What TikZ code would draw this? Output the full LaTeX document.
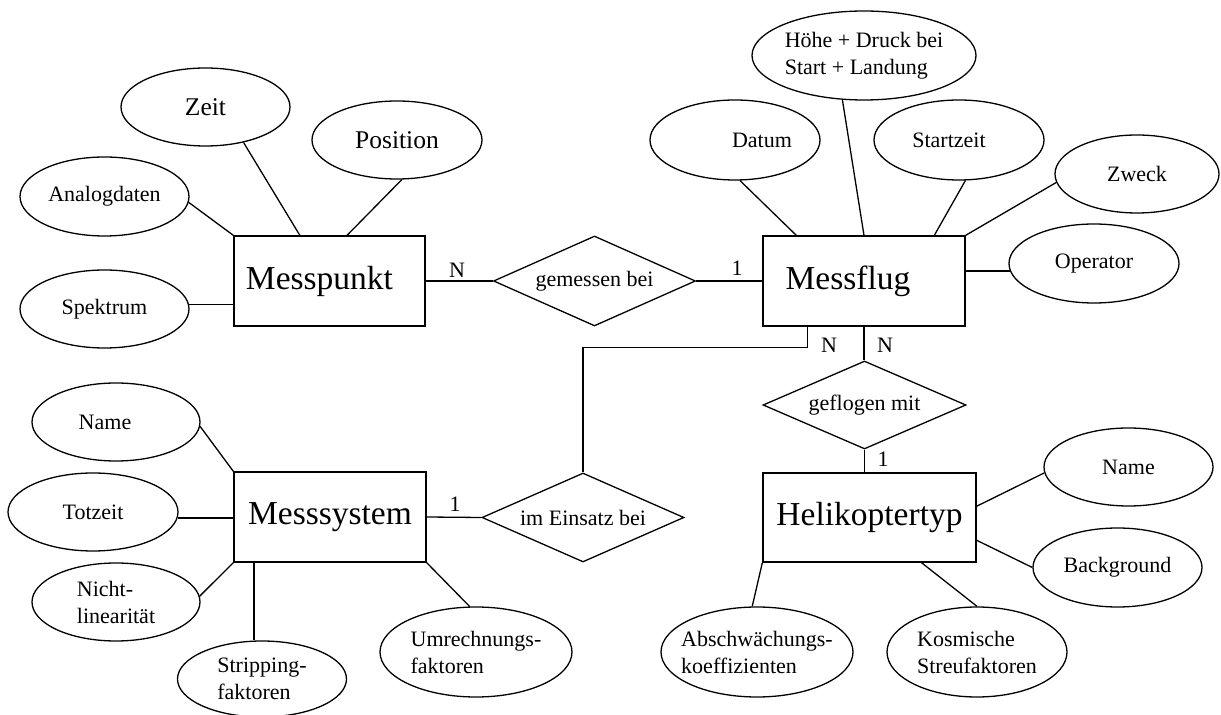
\documentclass[tikz,border=0pt]{standalone}
\usepackage{fontspec}
\setmainfont{Liberation Serif}
\usetikzlibrary{shapes.geometric}

\tikzset{
  entity/.style={draw, rectangle, inner sep=0pt, minimum height=45pt,
    font=\fontsize{16.75}{20}\selectfont},
  attr/.style={draw, ellipse, inner sep=0pt, minimum width=85pt, minimum height=39pt,
    align=left, font=\fontsize{11}{13.5}\selectfont},
  rel/.style={draw, diamond, aspect=2.24, inner sep=0pt, minimum width=101pt,
    minimum height=45pt, font=\fontsize{11}{13.5}\selectfont},
  card/.style={inner sep=0pt, font=\fontsize{11}{13.5}\selectfont},
}

\begin{document}
\begin{tikzpicture}[x=0.5pt, y=-0.5pt, line width=0.65pt]
\useasboundingbox (0,0) rectangle (1221,715);

% the entities
\node[entity, minimum width=95.5pt] (mp) at (329.5,281) {Messpunkt\hspace*{10pt}};
\node[entity, minimum width=101pt] (mf) at (864,281) {Messflug\hspace*{16pt}};
\node[entity, minimum width=96pt] (ms) at (330,517) {Messsystem};
\node[entity, minimum width=106.5pt, minimum height=44.5pt] (ht) at (869.5,517.5) {Helikoptertyp};

% the relationships
\node[rel] (gb) at (594.5,281) {gemessen bei};
\node[rel, minimum height=44.5pt] (ie) at (583,517.5) {im Einsatz bei};
\node[rel, minimum width=101.5pt, minimum height=44pt] (gm) at (864.5,405) {geflogen mit};

% attributes of Messpunkt
\node[attr, minimum width=84.5pt, font=\fontsize{12.75}{15}\selectfont] (zeit) at (205.5,107) {Zeit};
\node[attr, font=\fontsize{12.75}{15}\selectfont] (pos) at (397,140) {Position};
\node[attr, minimum width=84.5pt, minimum height=39.5pt] (analog) at (104.5,196.5) {Analogdaten};
\node[attr, minimum width=84.5pt] (spek) at (104.5,309) {Spektrum};

% attributes of Messflug
\node[attr, minimum height=40pt] (datum) at (735,140) {\hspace*{27pt}Datum};
\node[attr, minimum width=112pt, minimum height=44.5pt, inner xsep=-2pt] (hoehe) at (864,55.5)
  {H\"ohe + Druck bei\\Start + Landung};
\node[attr, minimum height=40pt] (start) at (959,140) {Startzeit\hspace*{10pt}};
\node[attr, minimum width=82pt] (zweck) at (1137,174) {Zweck};
\node[attr, minimum height=39.5pt] (oper) at (1094,263.5) {Operator};

% attributes of Messsystem
\node[attr, minimum width=84pt] (name1) at (116,422) {Name\hspace*{11pt}};
\node[attr] (tot) at (93,512) {Totzeit};
\node[attr, minimum width=84pt] (nicht) at (116,602) {Nicht-\\linearit\"at};
\node[attr, minimum width=84.5pt, minimum height=38pt] (strip) at (262,679) {Stripping-\\faktoren};
\node[attr, minimum width=96pt, minimum height=45pt] (umr) at (476,652) {Umrechnungs-\\faktoren};

% attributes of Helikoptertyp
\node[attr, minimum width=84.5pt] (name2) at (1128.5,467) {Name};
\node[attr, minimum width=84.5pt, minimum height=39.5pt] (backg) at (1117.5,567.5) {Background};
\node[attr, minimum width=90pt, minimum height=45pt] (kosm) at (977,652) {Kosmische\\Streufaktoren};
\node[attr, minimum width=96pt, minimum height=45pt, inner xsep=-5pt] (absch) at (757,652)
  {Abschw\"achungs-\\koeffizienten};

% the cardinalities
\node[card] (c1) at (457,270) {N};
\node[card] (c2) at (737,268) {1};
\node[card] (c3) at (829,345) {N};
\node[card] (c4) at (885,345) {N};
\node[card] (c5) at (883,459) {1};
\node[card] (c6) at (455,504) {1};

% the lines
\draw (analog.-4) -- (mp.north west);
\draw (zeit.-43) -- (mp.123);
\draw (pos.-83) -- (mp.69);
\draw (spek.3) -- (spek.3 -| mp.west);
\draw (mp.east) -- (gb.west);
\draw (gb.east) -- (mf.west);

\draw (datum.-83) -- (mf.146.5);
\draw (hoehe.-116) -- (mf.north);
\draw (start.-81) -- (mf.33.5);
\draw (zweck.186) -- (mf.north east);
\draw (oper.185) -- (oper.185 -| mf.east);
\draw (mf.-141) -- ++(0,21) -| (ie.north);
\draw (mf.south) -- (mf.south |- gm.north);
\draw (gm.south) -- (gm.south |- ht.north);

\draw (name1.-3) -- (ms.north west);
\draw (tot.-4) -- (tot.-4 -| ms.west);
\draw (nicht.4) -- (ms.south west);
\draw (ms.-149) -- (ms.-149 |- strip.north);
\draw (ms.south east) -- (umr.98);
\draw (ms.east) -- (ie.west);

\draw (ht.south west) -- (absch.96);
\draw (ht.-41) -- (kosm.north);
\draw (ht.6.6) -- (name2.184);
\draw (ht.-12) -- (backg.west);
\end{tikzpicture}
\end{document}
